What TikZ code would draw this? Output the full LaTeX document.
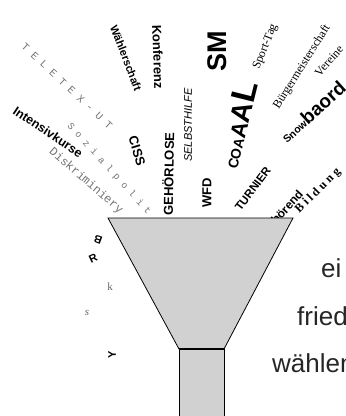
\documentclass[tikz,border=0pt]{standalone}
\usepackage{fontspec}
\setmainfont{Liberation Serif}
\setsansfont{Liberation Sans}
\setmonofont{Liberation Mono}
\newcommand\fsz[1]{\fontsize{#1}{#1}\selectfont}
\begin{document}
\begin{tikzpicture}[x=1pt,y=-1pt,
  word/.style={inner sep=0pt,font=\sffamily\bfseries},
  mono/.style={inner sep=0pt,text=black!55},
  serif/.style={inner sep=0pt},
  side/.style={inner sep=0pt,anchor=base west,font=\sffamily\fsz{26},text=black!85}]
  \useasboundingbox (0,0) rectangle (346,416);
  \clip (0,0) rectangle (346,416);
  % parole che entrano nell'imbuto
  \node[mono,rotate=-43,font=\ttfamily\fsz{10.5}] (teletex) at (67,86) {T E L E T E X - U T};
  \node[mono,rotate=-48,font=\ttfamily\fsz{9.5}] (sozial) at (109,169) {S o z i a l p o l i t};
  \node[mono,rotate=-41,font=\ttfamily\fsz{12}] (diskr) at (86,181) {Diskriminiery};
  \node[word,rotate=-34,font=\sffamily\bfseries\fsz{12.5}] (intens) at (48,132) {Intensivkurse};
  \node[word,rotate=-69,font=\sffamily\bfseries\fsz{11}] (waehler) at (126,58) {Wählerschaft};
  \node[word,rotate=-88,font=\sffamily\bfseries\fsz{13}] (konf) at (158,57) {Konferenz};
  \node[word,rotate=-73,font=\sffamily\bfseries\fsz{13}] (ciss) at (137,151) {CISS};
  \node[word,rotate=89,font=\sffamily\bfseries\fsz{13}] (gehoer) at (168,174) {GEHÖRLOSE};
  \node[word,rotate=90,font=\sffamily\itshape\fsz{11}] (selbst) at (188,125) {SELBSTHILFE};
  \node[word,rotate=90,font=\sffamily\bfseries\fsz{13}] (wfd) at (207,193) {WFD};
  \node[word,rotate=90,font=\sffamily\bfseries\fsz{27}] (sm) at (217,51) {SM};
  \node[word,rotate=76,anchor=base west] (coaaal) at (237,170)
    {\fsz{14}COA\fsz{22}A\fsz{28}A\fsz{34}L};
  \node[serif,rotate=68,anchor=base west,font=\fsz{12}] (sport) at (259,70) {Sport-Tag};
  \node[serif,rotate=58,font=\fsz{12}] (buerger) at (302,67) {Bürgermeisterschaft};
  \node[serif,rotate=49,font=\fsz{12}] (verein) at (329,61) {Vereine};
  \node[word,rotate=42,anchor=base west] (snow) at (287,144) {\fsz{10.5}Snow\fsz{19}baord};
  \node[word,rotate=53,font=\sffamily\bfseries\fsz{11.5}] (turnier) at (253,189) {TURNIER};
  \node[word,rotate=48,font=\sffamily\bfseries\fsz{12}] (hoerend) at (287,207) {hörend};
  \node[serif,rotate=45,font=\bfseries\fsz{12}] (bildung) at (318,191) {B i l d u n g};
  % lettere sparse
  \node[word,rotate=160,font=\sffamily\bfseries\fsz{11}] (b) at (98,240) {B};
  \node[word,rotate=25,font=\sffamily\bfseries\fsz{11}] (r) at (93,258) {R};
  \node[serif,text=black!60,font=\fsz{11}] (k) at (110,287) {k};
  \node[serif,text=black!60,font=\itshape\fsz{11}] (s) at (87,313) {s};
  \node[word,rotate=90,font=\sffamily\bfseries\fsz{11}] (y) at (112,355) {Y};
  % imbuto
  \filldraw[fill=black!18,line width=0.8pt] (108,218) -- (293,218) -- (224,349) -- (179,349) -- cycle;
  \filldraw[fill=black!18,line width=0.8pt] (179,349) rectangle (224,420);
  \draw[line width=1.4pt] (179,349) -- (224,349);
  % testo a destra
  \node[side] (ei) at (321,277) {ei};
  \node[side] (fried) at (297,325) {fried};
  \node[side] (waehlen) at (272,372) {wählen};
\end{tikzpicture}
\end{document}
